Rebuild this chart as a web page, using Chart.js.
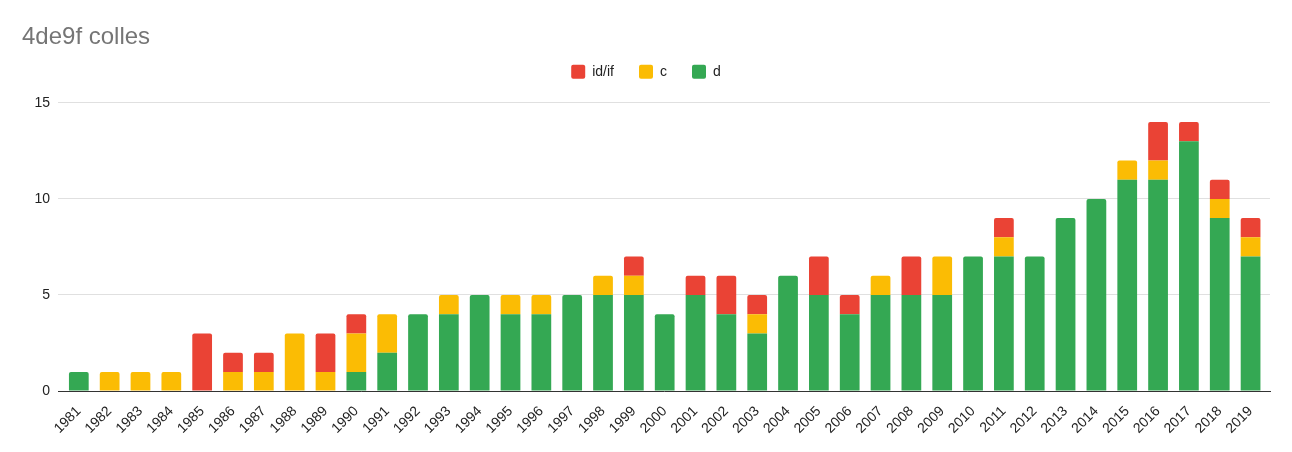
<!DOCTYPE html>
<html><head><meta charset="utf-8">
<script src="https://cdn.jsdelivr.net/npm/chart.js@4"></script>
<style>html,body{margin:0;padding:0;background:#fff}#w{width:1292px;height:452px}</style>
</head><body><div id="w"><canvas id="c"></canvas></div>
<script>
const years = ["1981","1982","1983","1984","1985","1986","1987","1988","1989","1990","1991","1992","1993","1994","1995","1996","1997","1998","1999","2000","2001","2002","2003","2004","2005","2006","2007","2008","2009","2010","2011","2012","2013","2014","2015","2016","2017","2018","2019"];
const dValues  = [1,0,0,0,0,0,0,0,0,1,2,4,4,5,4,4,5,5,5,4,5,4,3,6,5,4,5,5,5,7,7,7,9,10,11,11,13,9,7];
const cValues  = [0,1,1,1,0,1,1,3,1,2,2,0,1,0,1,1,0,1,1,0,0,0,1,0,0,0,1,0,2,0,1,0,0,0,1,1,0,1,1];
const idValues = [0,0,0,0,3,1,1,0,2,1,0,0,0,0,0,0,0,0,1,0,1,2,1,0,2,1,0,2,0,0,1,0,0,0,0,2,1,1,1];
const yTicks = [0,5,10,15];
const FONT = "'Liberation Sans', Arial, sans-serif";
const stackSeries = [dValues, cValues, idValues];
function topRadius(ctx){
  const i = ctx.dataIndex, ds = ctx.datasetIndex;
  if(!stackSeries[ds] || !stackSeries[ds][i]) return 0;
  for(let k = ds+1; k < stackSeries.length; k++){ if(stackSeries[k][i]) return 0; }
  return {topLeft:2, topRight:2, bottomLeft:0, bottomRight:0};
}
const legendSpacer = {
  id:'legendSpacer',
  beforeInit(chart){
    const lg = chart.legend;
    if(!lg) return;
    const orig = lg.fit;
    lg.fit = function(){ orig.call(this); this.height += 14; };
  }
};
new Chart(document.getElementById('c'), {
  type: 'bar',
  plugins:[legendSpacer],
  data: {
    labels: years,
    datasets: [
      {label:'d', data:dValues, backgroundColor:'#34a853', borderRadius:topRadius, borderSkipped:false},
      {label:'c', data:cValues, backgroundColor:'#fbbc04', borderRadius:topRadius, borderSkipped:false},
      {label:'id/if', data:idValues, backgroundColor:'#ea4335', borderRadius:topRadius, borderSkipped:false}
    ]
  },
  options: {
    responsive:true, maintainAspectRatio:false, animation:false,
    datasets:{bar:{categoryPercentage:0.8, barPercentage:0.8}},
    layout:{padding:{left:22,right:22,top:23,bottom:11}},
    plugins:{
      title:{display:true, text:'4de9f colles', align:'start', color:'#757575',
        font:{family:FONT, size:24, weight:'normal'}, padding:{top:0,bottom:-12}},
      legend:{reverse:true, labels:{boxWidth:14, boxHeight:14, color:'#222', padding:25,
        useBorderRadius:true, borderRadius:2,
        font:{family:FONT, size:14}}},
      tooltip:{enabled:false}
    },
    scales:{
      x:{stacked:true, grid:{display:false}, border:{color:'#333', width:1},
        afterBuildTicks:(s)=>{ s._startValue -= 0.175; s._valueRange += 0.305; },
        ticks:{color:'#222', padding:4, font:{family:FONT,size:14}, minRotation:45, maxRotation:45, autoSkip:false}},
      y:{stacked:true, min:0, max:15, afterFit:(s)=>{s.width=36;},
        afterBuildTicks:(s)=>{s.ticks=yTicks.map(v=>({value:v}));},
        grid:{color:'#e0e0e0', drawTicks:false}, border:{display:false},
        ticks:{color:'#222', padding:8, font:{family:FONT,size:14}}}
    }
  }
});
</script></body></html>
